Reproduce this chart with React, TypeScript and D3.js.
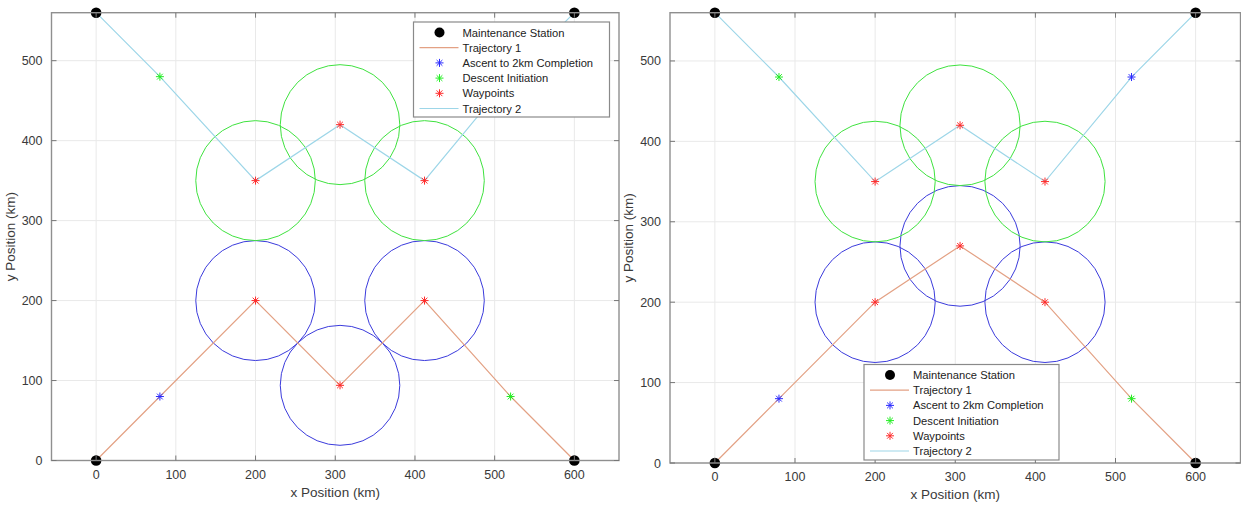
import React from "react";
import * as d3 from "d3";

type P = [number, number];

const xTicks = [0, 100, 200, 300, 400, 500, 600];
const yTicks = [0, 100, 200, 300, 400, 500];
const xDomain: P = [-56, 656];
const yDomain: P = [0, 560];

const stations: P[] = [[0, 0], [600, 0], [0, 560], [600, 560]];
const traj1Left: P[] = [[0, 0], [80, 80], [200, 200], [306, 94], [412, 200], [520, 80], [600, 0]];
const traj1Right: P[] = [[0, 0], [80, 80], [200, 200], [306, 270], [412, 200], [520, 80], [600, 0]];
const traj2: P[] = [[0, 560], [80, 480], [200, 350], [306, 420], [412, 350], [520, 480], [600, 560]];
const ascentPts: P[] = [[80, 80], [520, 480]];
const descentPts: P[] = [[520, 80], [80, 480]];
const waypointsLeft: P[] = [[200, 200], [306, 94], [412, 200], [200, 350], [306, 420], [412, 350]];
const waypointsRight: P[] = [[200, 200], [306, 270], [412, 200], [200, 350], [306, 420], [412, 350]];
const blueCirclesLeft: P[] = [[200, 200], [306, 94], [412, 200]];
const blueCirclesRight: P[] = [[200, 200], [306, 270], [412, 200]];
const greenCircles: P[] = [[200, 350], [306, 420], [412, 350]];
const circleRadius = 75;
const legendLabels = [
  "Maintenance Station",
  "Trajectory 1",
  "Ascent to 2km Completion",
  "Descent Initiation",
  "Waypoints",
  "Trajectory 2",
];

const C_T1 = "#e3a184";
const C_T2 = "#9dd6e8";
const C_BLUE = "#3b3bdc";
const C_GREEN = "#3fe23f";
const C_RED = "#ff2a2a";
const C_STAR_BLUE = "#2a2aff";
const C_STAR_GREEN = "#22ee22";
const FONT = "'Liberation Sans', Arial, Helvetica, sans-serif";

function Star({ x, y, color, s = 4 }: { x: number; y: number; color: string; s?: number }) {
  const d = s * 0.72;
  return (
    <path
      d={`M${x - s},${y}L${x + s},${y}M${x},${y - s}L${x},${y + s}M${x - d},${y - d}L${x + d},${y + d}M${x - d},${y + d}L${x + d},${y - d}`}
      stroke={color}
      strokeWidth={1}
      fill="none"
    />
  );
}

interface PanelProps {
  left: number;
  right: number;
  top: number;
  bottom: number;
  traj1: P[];
  waypoints: P[];
  blueCircles: P[];
  legend: { x: number; y: number; w: number; h: number };
  clipId: string;
}

function Panel({ left, right, top, bottom, traj1, waypoints, blueCircles, legend, clipId }: PanelProps) {
  const x = d3.scaleLinear().domain(xDomain).range([left, right]);
  const y = d3.scaleLinear().domain(yDomain).range([bottom, top]);
  const line = d3
    .line<P>()
    .x((d) => x(d[0]))
    .y((d) => y(d[1]));
  const rx = x(circleRadius) - x(0);
  const ry = y(0) - y(circleRadius);
  const tickLen = 5;
  const rowH = 15.2;
  const lx = legend.x;
  const ly = legend.y;
  return (
    <g>
      <defs>
        <clipPath id={clipId}>
          <rect x={left - 8} y={top - 8} width={right - left + 16} height={bottom - top + 16} />
        </clipPath>
      </defs>
      <rect x={left} y={top} width={right - left} height={bottom - top} fill="#fff" />
      {/* grid */}
      {xTicks.map((t) => (
        <line key={"gx" + t} x1={x(t)} x2={x(t)} y1={top} y2={bottom} stroke="#e9e9e9" strokeWidth={1} />
      ))}
      {yTicks.map((t) => (
        <line key={"gy" + t} x1={left} x2={right} y1={y(t)} y2={y(t)} stroke="#e9e9e9" strokeWidth={1} />
      ))}
      <g clipPath={`url(#${clipId})`}>
        {blueCircles.map((c, i) => (
          <ellipse key={"bc" + i} cx={x(c[0])} cy={y(c[1])} rx={rx} ry={ry} fill="none" stroke={C_BLUE} strokeWidth={1} />
        ))}
        {greenCircles.map((c, i) => (
          <ellipse key={"gc" + i} cx={x(c[0])} cy={y(c[1])} rx={rx} ry={ry} fill="none" stroke={C_GREEN} strokeWidth={1} />
        ))}
        <path d={line(traj1) || ""} fill="none" stroke={C_T1} strokeWidth={1.2} />
        <path d={line(traj2) || ""} fill="none" stroke={C_T2} strokeWidth={1.2} />
        {ascentPts.map((p, i) => (
          <Star key={"a" + i} x={x(p[0])} y={y(p[1])} color={C_STAR_BLUE} />
        ))}
        {descentPts.map((p, i) => (
          <Star key={"d" + i} x={x(p[0])} y={y(p[1])} color={C_STAR_GREEN} />
        ))}
        {waypoints.map((p, i) => (
          <Star key={"w" + i} x={x(p[0])} y={y(p[1])} color={C_RED} />
        ))}
        {stations.map((p, i) => (
          <circle key={"s" + i} cx={x(p[0])} cy={y(p[1])} r={5.3} fill="#000" />
        ))}
      </g>
      {/* box */}
      <rect x={left} y={top} width={right - left} height={bottom - top} fill="none" stroke="#8f8f8f" strokeWidth={1.4} />
      {/* ticks */}
      {xTicks.map((t) => (
        <g key={"xt" + t}>
          <line x1={x(t)} x2={x(t)} y1={bottom} y2={bottom - tickLen} stroke="#777" strokeWidth={1} />
          <line x1={x(t)} x2={x(t)} y1={top} y2={top + tickLen} stroke="#777" strokeWidth={1} />
          <text x={x(t)} y={bottom + 18} textAnchor="middle" fontSize={12.5} fill="#3a3a3a" fontFamily={FONT}>
            {t}
          </text>
        </g>
      ))}
      {yTicks.map((t) => (
        <g key={"yt" + t}>
          <line x1={left} x2={left + tickLen} y1={y(t)} y2={y(t)} stroke="#777" strokeWidth={1} />
          <line x1={right} x2={right - tickLen} y1={y(t)} y2={y(t)} stroke="#777" strokeWidth={1} />
          <text x={left - 9} y={y(t) + 4.5} textAnchor="end" fontSize={12.5} fill="#3a3a3a" fontFamily={FONT}>
            {t}
          </text>
        </g>
      ))}
      <text
        x={(x(0) + x(600)) / 2}
        y={bottom + 36}
        textAnchor="middle"
        fontSize={13.5}
        fill="#3a3a3a"
        fontFamily={FONT}
      >
        x Position (km)
      </text>
      <text
        transform={`translate(${left - 37},${(top + bottom) / 2}) rotate(-90)`}
        textAnchor="middle"
        fontSize={13.5}
        fill="#3a3a3a"
        fontFamily={FONT}
      >
        y Position (km)
      </text>
      {/* legend */}
      <rect x={lx} y={ly} width={legend.w} height={legend.h} fill="#fff" stroke="#8a8a8a" strokeWidth={1.2} />
      {legendLabels.map((lab, i) => {
        const cy = ly + 10.5 + i * rowH;
        const mx = lx + 26;
        let sym: React.ReactNode = null;
        if (i === 0) sym = <circle cx={mx} cy={cy} r={5} fill="#000" />;
        if (i === 1) sym = <line x1={lx + 6} x2={lx + 45} y1={cy} y2={cy} stroke={C_T1} strokeWidth={1.2} />;
        if (i === 2) sym = <Star x={mx} y={cy} color={C_STAR_BLUE} />;
        if (i === 3) sym = <Star x={mx} y={cy} color={C_STAR_GREEN} />;
        if (i === 4) sym = <Star x={mx} y={cy} color={C_RED} />;
        if (i === 5) sym = <line x1={lx + 6} x2={lx + 45} y1={cy} y2={cy} stroke={C_T2} strokeWidth={1.2} />;
        return (
          <g key={"lg" + i}>
            {sym}
            <text x={lx + 49} y={cy + 4} fontSize={11.2} fill="#222" fontFamily={FONT}>
              {lab}
            </text>
          </g>
        );
      })}
    </g>
  );
}

export default function App() {
  return (
    <svg
      width={1241}
      height={505}
      style={{ position: "absolute", left: 0, top: 0, background: "#fff" }}
      xmlns="http://www.w3.org/2000/svg"
    >
      <rect x={0} y={0} width={1241} height={505} fill="#fff" />
      <Panel
        left={51.5}
        right={619}
        top={12.7}
        bottom={460.5}
        traj1={traj1Left}
        waypoints={waypointsLeft}
        blueCircles={blueCirclesLeft}
        legend={{ x: 413.5, y: 22, w: 196, h: 95 }}
        clipId="clipL"
      />
      <Panel
        left={670}
        right={1240.5}
        top={12.7}
        bottom={463}
        traj1={traj1Right}
        waypoints={waypointsRight}
        blueCircles={blueCirclesRight}
        legend={{ x: 864, y: 364.5, w: 195, h: 95.5 }}
        clipId="clipR"
      />
    </svg>
  );
}
